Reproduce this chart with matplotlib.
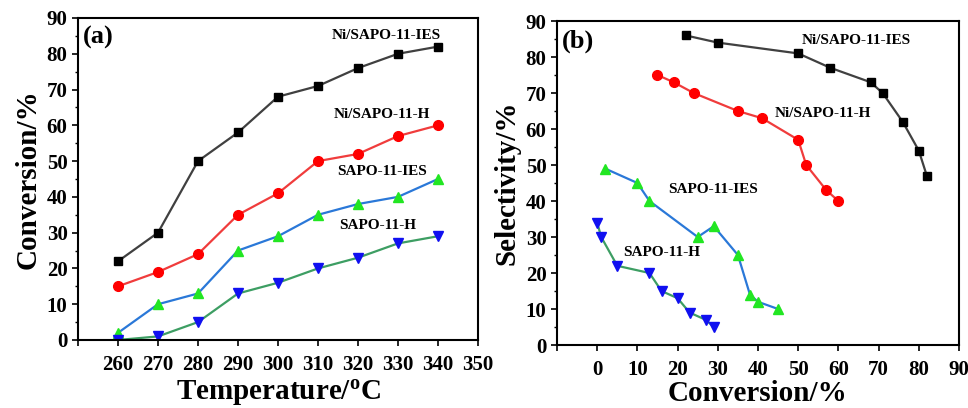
import matplotlib
matplotlib.use("Agg")
from matplotlib import pyplot as plt
from matplotlib.ticker import MultipleLocator

plt.rcParams['font.family'] = ['Liberation Serif', 'DejaVu Serif']
plt.rcParams['font.weight'] = 'bold'

# panel (a): conversion vs temperature
temperature = [260, 270, 280, 290, 300, 310, 320, 330, 340]
conv_ni_ies = [22, 30, 50, 58, 68, 71, 76, 80, 82]
conv_ni_h = [15, 19, 24, 35, 41, 50, 52, 57, 60]
conv_ies = [2, 10, 13, 25, 29, 35, 38, 40, 45]
conv_h = [0, 1, 5, 13, 16, 20, 23, 27, 29]

# panel (b): selectivity vs conversion
sel_ni_ies = [86, 84, 81, 77, 73, 70, 62, 54, 47]
sel_ni_h = [75, 73, 70, 65, 63, 57, 50, 43, 40]
sel_ies = [49, 45, 40, 30, 33, 25, 14, 12, 10]
sel_h = [34, 30, 22, 20, 15, 13, 9, 7, 5]

names = ['Ni/SAPO-11-IES', 'Ni/SAPO-11-H', 'SAPO-11-IES', 'SAPO-11-H']
styles = [
    dict(color='#404040', marker='s', mfc='black', mec='black', ms=6),
    dict(color='#f03c3c', marker='o', mfc='#ff0000', mec='#ff0000', ms=7),
    dict(color='#2a78d8', marker='^', mfc='#22e622', mec='#22e622', ms=7.5),
    dict(color='#3d9e63', marker='v', mfc='#1010f0', mec='#1010f0', ms=7.5),
]

fig = plt.figure(figsize=(9.68, 4.08), dpi=100)
axa = fig.add_axes([0.0806, 0.1667, 0.4132, 0.7892])
axb = fig.add_axes([0.5754, 0.1544, 0.4153, 0.7941])

for ys, st in zip([conv_ni_ies, conv_ni_h, conv_ies, conv_h], styles):
    axa.plot(temperature, ys, lw=1.6, **st)
for xs, ys, st in zip([conv_ni_ies, conv_ni_h, conv_ies, conv_h],
                      [sel_ni_ies, sel_ni_h, sel_ies, sel_h], styles):
    axb.plot(xs, ys, lw=1.6, **st)

# curve labels
for name, (x, y) in zip(names, [(327, 85), (326, 63), (326, 47), (325, 32)]):
    axa.text(x, y, name, ha='center', va='center', fontsize=11, fontweight='bold')
for name, (x, y) in zip(names, [(64.4, 84.7), (56.2, 64.2), (28.8, 43.3), (16.1, 25.8)]):
    axb.text(x, y, name, ha='center', va='center', fontsize=11, fontweight='bold')

axa.set_xlim(250, 350)
axa.set_xticks(range(250, 351, 10))
axa.set_xticklabels([''] + [str(t) for t in range(260, 351, 10)])
axb.set_xlim(-10, 90)
axb.set_xticks(range(-10, 91, 10))
axb.set_xticklabels([''] + [str(t) for t in range(0, 91, 10)])

for ax, lab, xl, yl, lp in [(axa, '(a)', 'Temperature/$\\mathregular{^{o}}$C', 'Conversion/%', 2),
                            (axb, '(b)', 'Conversion/%', 'Selectivity/%', 0)]:
    ax.set_ylim(0, 90)
    ax.yaxis.set_major_locator(MultipleLocator(10))
    ax.yaxis.set_minor_locator(MultipleLocator(5))
    ax.tick_params(axis='both', which='major', direction='out', length=4, width=1.2,
                   labelsize=15)
    ax.tick_params(axis='x', pad=7)
    ax.tick_params(axis='y', which='minor', direction='out', length=2, width=1)
    for sp in ax.spines.values():
        sp.set_linewidth(1.5)
    for t in ax.get_xticklabels() + ax.get_yticklabels():
        t.set_fontweight('bold')
    ax.text(0.012, 0.975, lab, transform=ax.transAxes, ha='left', va='top',
            fontsize=19, fontweight='bold')
    ax.set_xlabel(xl, fontsize=21, fontweight='bold', labelpad=lp)
    ax.set_ylabel(yl, fontsize=21, fontweight='bold', labelpad=4)

fig.savefig('out.png', dpi=100)
